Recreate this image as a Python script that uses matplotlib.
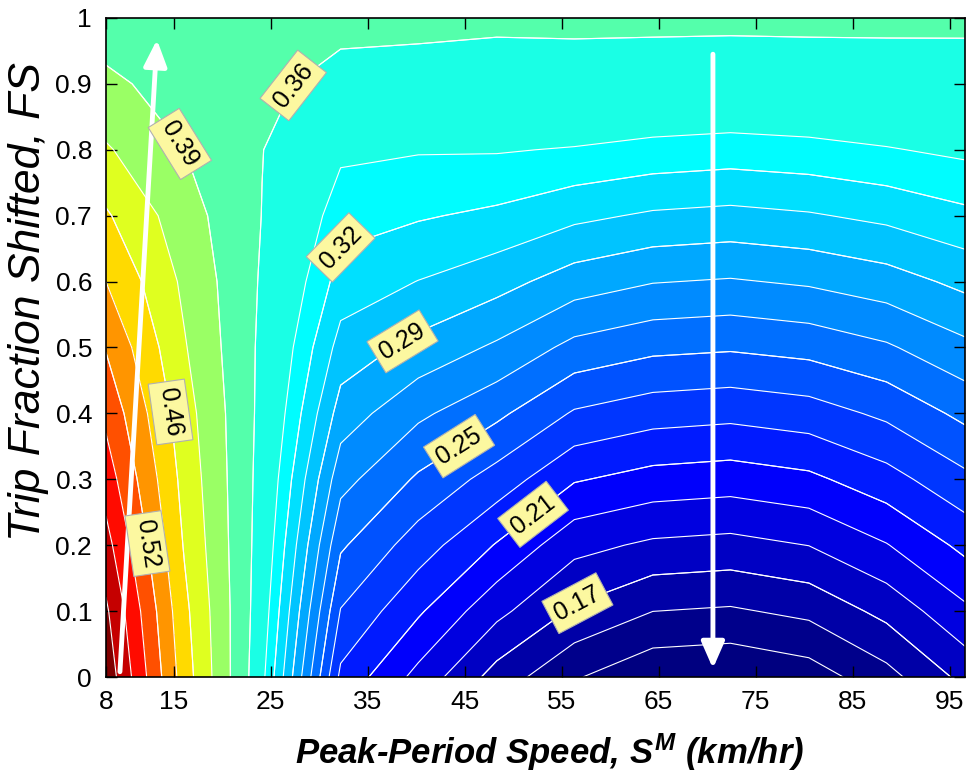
import numpy as np
import matplotlib
matplotlib.use("Agg")
import matplotlib.pyplot as plt

plt.rcParams['font.family'] = ['Liberation Sans', 'DejaVu Sans']
plt.rcParams['mathtext.fontset'] = 'custom'
plt.rcParams['mathtext.rm'] = 'Liberation Sans:bold:italic'
plt.rcParams['mathtext.it'] = 'Liberation Sans:bold:italic'

# ---- data ----
speeds = [8.0, 16.1, 24.1, 32.2, 40.2, 48.3, 56.3, 64.4, 72.4, 80.5, 88.5, 96.6]
fs = [0.0, 0.1, 0.2, 0.3, 0.4, 0.5, 0.6, 0.7, 0.8, 0.9, 1.0]

z_s08 = [0.640, 0.623, 0.597, 0.570, 0.545, 0.518, 0.4875, 0.459, 0.426, 0.396, 0.375]
z_s16 = [0.471, 0.463, 0.452, 0.444, 0.436, 0.425, 0.416, 0.404, 0.390, 0.378, 0.372]
z_s24 = [0.334, 0.339, 0.343, 0.346, 0.349, 0.351, 0.354, 0.357, 0.358, 0.364, 0.370]
z_s32 = [0.220, 0.236, 0.252, 0.268, 0.284, 0.298, 0.311, 0.322, 0.333, 0.348, 0.366]
z_s40 = [0.1925, 0.212, 0.230, 0.248, 0.266, 0.286, 0.303, 0.318, 0.331, 0.349, 0.363]
z_s48 = [0.1645, 0.187, 0.209, 0.231, 0.253, 0.2745, 0.295, 0.314, 0.331, 0.349, 0.361]
z_s56 = [0.1446, 0.168, 0.1875, 0.2112, 0.2352, 0.2594, 0.2835, 0.3064, 0.329, 0.350, 0.361]
z_s64 = [0.1327, 0.1568, 0.1809, 0.205, 0.229, 0.2532, 0.2773, 0.3014, 0.3255, 0.349, 0.361]
z_s72 = [0.131, 0.155, 0.179, 0.203, 0.227, 0.2515, 0.2755, 0.2995, 0.3237, 0.348, 0.361]
z_s80 = [0.1364, 0.160, 0.1835, 0.207, 0.2305, 0.2545, 0.2785, 0.302, 0.3255, 0.349, 0.361]
z_s88 = [0.152, 0.174, 0.196, 0.218, 0.2395, 0.2615, 0.284, 0.3065, 0.329, 0.3495, 0.361]
z_s96 = [0.174, 0.194, 0.2135, 0.2335, 0.2535, 0.2735, 0.2935, 0.3135, 0.333, 0.353, 0.3595]

blue_levels = [0.1433, 0.1567, 0.17, 0.1833, 0.1967, 0.21, 0.2233, 0.2367, 0.25,
               0.2633, 0.2767, 0.29, 0.3033, 0.3167, 0.33]
warm_levels = [0.3575, 0.39, 0.4225, 0.455, 0.4875, 0.52, 0.5525, 0.585, 0.6175]

label_text = {0.17: "0.17", 0.21: "0.21", 0.25: "0.25", 0.29: "0.29", 0.3167: "0.32",
              0.3575: "0.36", 0.39: "0.39", 0.455: "0.46", 0.52: "0.52"}
label_where = {0.17: (56.7, 0.109), 0.21: (52.25, 0.243), 0.25: (44.0, 0.36),
               0.29: (38.8, 0.504), 0.3167: (31.6, 0.675), 0.3575: (27.7, 0.895),
               0.39: (16.15, 0.815), 0.455: (14.6, 0.402), 0.52: (12.5, 0.203)}

xticks = [8, 15, 25, 35, 45, 55, 65, 75, 85, 95]
yticks = [0, 0.1, 0.2, 0.3, 0.4, 0.5, 0.6, 0.7, 0.8, 0.9, 1]
ytick_labels = ["0", "0.1", "0.2", "0.3", "0.4", "0.5", "0.6", "0.7", "0.8", "0.9", "1"]

# annotation arrows (speed, FS)
arrow_up = ((9.44, 0.008), (13.26, 0.967))
arrow_down = ((70.6, 0.945), (70.6, 0.013))

# ---- build ----
Z = np.column_stack([z_s08, z_s16, z_s24, z_s32, z_s40, z_s48, z_s56, z_s64,
                     z_s72, z_s80, z_s88, z_s96])
X, Y = np.meshgrid(speeds, fs)
levels = blue_levels + warm_levels
bounds = [min(Z.min(), levels[0]) - 0.01] + levels + [max(Z.max(), levels[-1]) + 0.01]


def jet(t):
    t = float(np.clip(t, 0, 1))
    r = np.clip(1.5 - abs(4 * t - 3), 0, 1)
    g = np.clip(1.5 - abs(4 * t - 2), 0, 1)
    b = np.clip(1.5 - abs(4 * t - 1), 0, 1)
    return (r, g, b)


cmin, cmax = 0.138, levels[-1]
band_colors = [jet(0.0)] + [jet((lv - cmin) / (cmax - cmin)) for lv in levels]

fig = plt.figure(figsize=(9.66, 7.71), dpi=100)
ax = fig.add_axes([0.1097, 0.1219, 0.8893, 0.8548])

ax.contourf(X, Y, Z, levels=bounds, colors=band_colors)
cs = ax.contour(X, Y, Z, levels=levels, colors='white', linewidths=0.8)

label_boxes = []
for lv, txt in label_text.items():
    one = ax.contour(X, Y, Z, levels=[lv], colors='white', linewidths=0.8)
    ax.clabel(one, manual=[label_where[lv]], inline=False,
              fmt={lv: txt}, fontsize=18, colors='black')
    label_boxes.extend(one.labelTexts)
for t in label_boxes:
    t.set_bbox(dict(boxstyle='square,pad=0.25', fc='#fcf8a0', ec='#b0b0b0', lw=0.8))

for (p0, p1) in (arrow_up, arrow_down):
    ax.annotate('', xy=p1, xytext=p0,
                arrowprops=dict(arrowstyle='-|>,head_width=0.35,head_length=0.8',
                                color='white', lw=3.5, shrinkA=0, shrinkB=0,
                                mutation_scale=20))

ax.set_xlim(speeds[0], speeds[-1])
ax.set_ylim(0, 1)
ax.set_xticks(xticks)
ax.set_yticks(yticks)
ax.set_yticklabels(ytick_labels)
ax.tick_params(direction='in', length=8, width=1, top=True, right=True,
               labelsize=19)
ax.tick_params(axis='x', pad=9)
ax.tick_params(axis='y', pad=10)
for sp in ax.spines.values():
    sp.set_linewidth(1.2)

ax.set_xlabel(r"Peak-Period Speed, $S^{M}$ (km/hr)", fontsize=25,
              fontweight='bold', fontstyle='italic')
ax.set_ylabel("Trip Fraction Shifted, FS", fontsize=32, fontstyle='italic')
ax.xaxis.set_label_coords(0.516, -0.082)
ax.yaxis.set_label_coords(-0.066, 0.569)

fig.savefig("out.png", dpi=100)
